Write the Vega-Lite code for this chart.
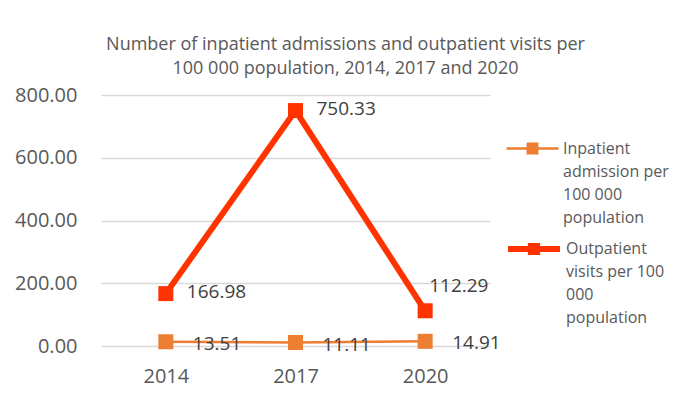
{
  "$schema": "https://vega.github.io/schema/vega-lite/v6.json",
  "autosize": {"type": "none"},
  "padding": {"left": 101, "top": 95, "right": 191, "bottom": 57},
  "width": 389,
  "height": 251,
  "background": "white",
  "title": {
    "text": ["Number of inpatient admissions and outpatient visits per", "100 000 population, 2014, 2017 and 2020"],
    "fontSize": 18,
    "font": "Open Sans",
    "fontWeight": "normal",
    "color": "#595959",
    "lineHeight": 24,
    "anchor": "middle",
    "dx": 50,
    "offset": 7
  },
  "data": {
    "values": [
      {"year": "2014", "series": "Inpatient admission per 100 000 population", "value": 13.51},
      {"year": "2017", "series": "Inpatient admission per 100 000 population", "value": 11.11},
      {"year": "2020", "series": "Inpatient admission per 100 000 population", "value": 14.91},
      {"year": "2014", "series": "Outpatient visits per 100 000 population", "value": 166.98},
      {"year": "2017", "series": "Outpatient visits per 100 000 population", "value": 750.33},
      {"year": "2020", "series": "Outpatient visits per 100 000 population", "value": 112.29}
    ]
  },
  "encoding": {
    "x": {
      "field": "year", "type": "ordinal",
      "scale": {"type": "point", "padding": 0.5},
      "axis": {"title": null, "labelAngle": 0, "domain": false, "ticks": false, "grid": false, "labelPadding": 20, "labelFontSize": 20, "labelColor": "#595959", "labelFont": "Open Sans"}
    },
    "y": {
      "field": "value", "type": "quantitative",
      "scale": {"domain": [0, 800], "nice": false},
      "axis": {"title": null, "values": [0, 200, 400, 600, 800], "format": ".2f", "domain": false, "ticks": false, "labelPadding": 24, "labelFontSize": 20, "labelColor": "#595959", "labelFont": "Open Sans", "gridColor": "#D9D9D9", "gridWidth": 1.5}
    }
  },
  "layer": [
    {
      "transform": [{"filter": "indexof(datum.series, 'In') == 0"}],
      "layer": [
        {
          "mark": {"type": "line", "strokeWidth": 2.5},
          "encoding": {
            "color": {
              "field": "series", "type": "nominal",
              "scale": {"domain": ["Inpatient admission per 100 000 population"], "range": ["#ED7D31"]},
              "legend": {
                "orient": "none",
                "legendX": 404,
                "legendY": 26,
                "title": null,
                "symbolType": "M-1,0H1M-0.18,-0.18H0.18V0.18H-0.18Z",
                "symbolSize": 2704,
                "symbolStrokeWidth": 2.5,
                "labelOffset": 3,
                "labelFontSize": 16,
                "labelFont": "Open Sans",
                "labelColor": "#595959",
                "labelLimit": 0,
                "labelExpr": "['Inpatient', 'admission per', '100 000', 'population']"
              }
            }
          }
        },
        {
          "mark": {"type": "point", "shape": "square", "filled": true, "size": 225, "opacity": 1},
          "encoding": {"color": {"field": "series", "type": "nominal", "legend": null}}
        }
      ]
    },
    {
      "transform": [{"filter": "indexof(datum.series, 'Out') == 0"}],
      "layer": [
        {
          "mark": {"type": "line", "strokeWidth": 6},
          "encoding": {
            "color": {
              "field": "series", "type": "nominal",
              "scale": {"domain": ["Outpatient visits per 100 000 population"], "range": ["#FF3300"]},
              "legend": {
                "orient": "none",
                "legendX": 404,
                "legendY": 125,
                "title": null,
                "symbolType": "M-1,0H1M-0.12,-0.12H0.12V0.12H-0.12Z",
                "symbolSize": 2704,
                "symbolStrokeWidth": 6,
                "labelOffset": 3,
                "labelFontSize": 16,
                "labelFont": "Open Sans",
                "labelColor": "#595959",
                "labelLimit": 0,
                "labelExpr": "['Outpatient', 'visits per 100', '000', 'population']"
              }
            }
          }
        },
        {
          "mark": {"type": "point", "shape": "square", "filled": true, "size": 225, "opacity": 1},
          "encoding": {"color": {"field": "series", "type": "nominal", "legend": null}}
        }
      ]
    },
    {
      "transform": [{"filter": "indexof(datum.series, 'In') == 0"}],
      "mark": {"type": "text", "align": "left", "baseline": "middle", "dx": 27, "dy": 2, "fontSize": 19, "font": "Open Sans", "color": "#404040"},
      "encoding": {"text": {"field": "value", "type": "quantitative", "format": ".2f"}}
    },
    {
      "transform": [{"filter": "indexof(datum.series, 'Out') == 0 && datum.year != '2020'"}],
      "mark": {"type": "text", "align": "left", "baseline": "middle", "dx": 21, "dy": -2, "fontSize": 19, "font": "Open Sans", "color": "#404040"},
      "encoding": {"text": {"field": "value", "type": "quantitative", "format": ".2f"}}
    },
    {
      "transform": [{"filter": "indexof(datum.series, 'Out') == 0 && datum.year == '2020'"}],
      "mark": {"type": "text", "align": "left", "baseline": "middle", "dx": 4, "dy": -25, "fontSize": 19, "font": "Open Sans", "color": "#404040"},
      "encoding": {"text": {"field": "value", "type": "quantitative", "format": ".2f"}}
    }
  ],
  "resolve": {"scale": {"color": "independent"}},
  "config": {
    "view": {"stroke": null},
    "font": "Open Sans",
    "style": {"guide-label": {"lineHeight": 23}}
  }
}
